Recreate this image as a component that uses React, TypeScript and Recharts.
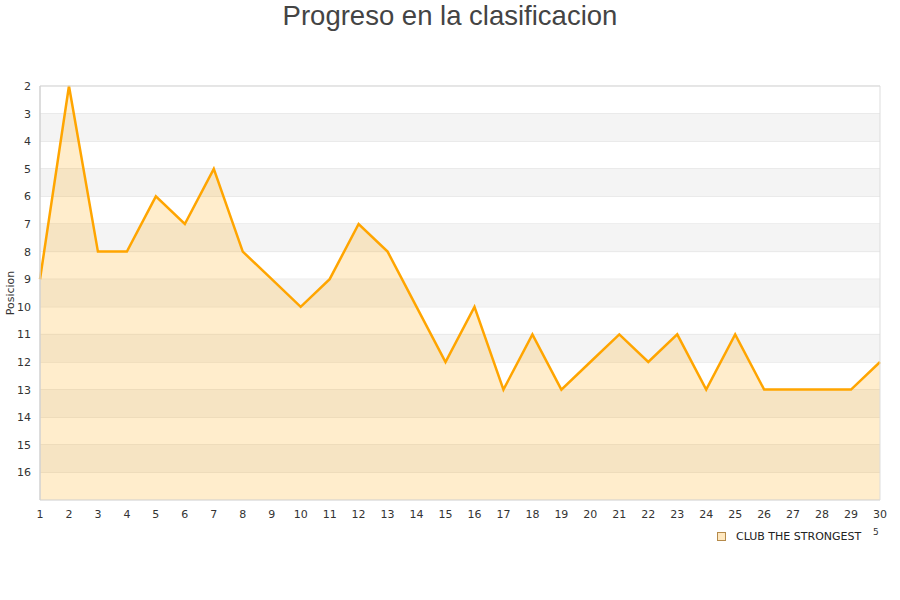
import React from "react";
import {
  ComposedChart,
  Area,
  XAxis,
  YAxis,
  CartesianGrid,
  ReferenceArea,
} from "recharts";

const jornadas = [
  1, 2, 3, 4, 5, 6, 7, 8, 9, 10, 11, 12, 13, 14, 15, 16, 17, 18, 19, 20, 21,
  22, 23, 24, 25, 26, 27, 28, 29, 30,
];
const posiciones = [
  9, 2, 8, 8, 6, 7, 5, 8, 9, 10, 9, 7, 8, 10, 12, 10, 13, 11, 13, 12, 11, 12,
  11, 13, 11, 13, 13, 13, 13, 12,
];
const yTicks = [2, 3, 4, 5, 6, 7, 8, 9, 10, 11, 12, 13, 14, 15, 16];
const bandStarts = [3, 5, 7, 9, 11, 13, 15];
const seriesName = "CLUB THE STRONGEST";
const title = "Progreso en la clasificacion";
const yLabel = "Posicion";

const data = jornadas.map((j, i) => ({ jornada: j, pos: posiciones[i] }));

const tickStyle = {
  fontFamily: "DejaVu Sans",
  fontSize: 11,
  fill: "#333",
};

export default function App() {
  return (
    <div
      style={{
        position: "absolute",
        left: 0,
        top: 0,
        width: 900,
        height: 600,
        background: "#fff",
      }}
    >
      <div
        style={{
          position: "absolute",
          top: 0,
          left: 0,
          width: 900,
          textAlign: "center",
          fontFamily: "Liberation Sans",
          fontSize: 27.5,
          color: "#444",
          lineHeight: "32px",
        }}
      >
        {title}
      </div>
      <ComposedChart
        width={900}
        height={600}
        data={data}
        margin={{ top: 86, right: 20, left: 0, bottom: 70 }}
      >
        {bandStarts.map((b) => (
          <ReferenceArea
            key={b}
            y1={b}
            y2={b + 1}
            fill="#f4f4f4"
            fillOpacity={1}
            stroke="none"
          />
        ))}
        <CartesianGrid
          horizontal={true}
          vertical={false}
          stroke="#dddddd"
          strokeDasharray=""
        />
        <XAxis
          dataKey="jornada"
          type="number"
          domain={[1, 30]}
          ticks={jornadas}
          interval={0}
          tickLine={false}
          axisLine={false}
          tick={tickStyle}
          tickMargin={4}
          height={30}
        />
        <YAxis
          type="number"
          reversed
          domain={[2, 17]}
          ticks={yTicks}
          interval={0}
          tickLine={false}
          axisLine={{ stroke: "#cccccc" }}
          tick={tickStyle}
          tickMargin={3}
          width={40}
          label={{
            value: yLabel,
            angle: -90,
            position: "insideLeft",
            offset: 10,
            style: { fontFamily: "DejaVu Sans", fontSize: 11, fill: "#333", textAnchor: "middle" },
          }}
        />
        <Area
          type="linear"
          dataKey="pos"
          baseValue={17}
          stroke="#ffa500"
          strokeWidth={2.5}
          fill="#ffa500"
          fillOpacity={0.2}
          dot={false}
          activeDot={false}
          isAnimationActive={false}
        />
        <ReferenceArea
          x1={1}
          x2={30}
          y1={2}
          y2={17}
          fill="none"
          stroke="#dddddd"
          strokeWidth={1}
        />
      </ComposedChart>
      <div
        style={{
          position: "absolute",
          left: 717,
          top: 530,
          display: "flex",
          alignItems: "center",
          fontFamily: "DejaVu Sans",
          fontSize: 11,
          color: "#222",
        }}
      >
        <span
          style={{
            display: "inline-block",
            width: 7,
            height: 7,
            border: "1px solid #b58a4a",
            background: "#ffe8c0",
            marginRight: 10,
          }}
        />
        <span>{seriesName}</span>
      </div>
      <div
        style={{
          position: "absolute",
          left: 873,
          top: 527,
          fontFamily: "DejaVu Sans",
          fontSize: 9,
          color: "#333",
        }}
      >
        5
      </div>
    </div>
  );
}
